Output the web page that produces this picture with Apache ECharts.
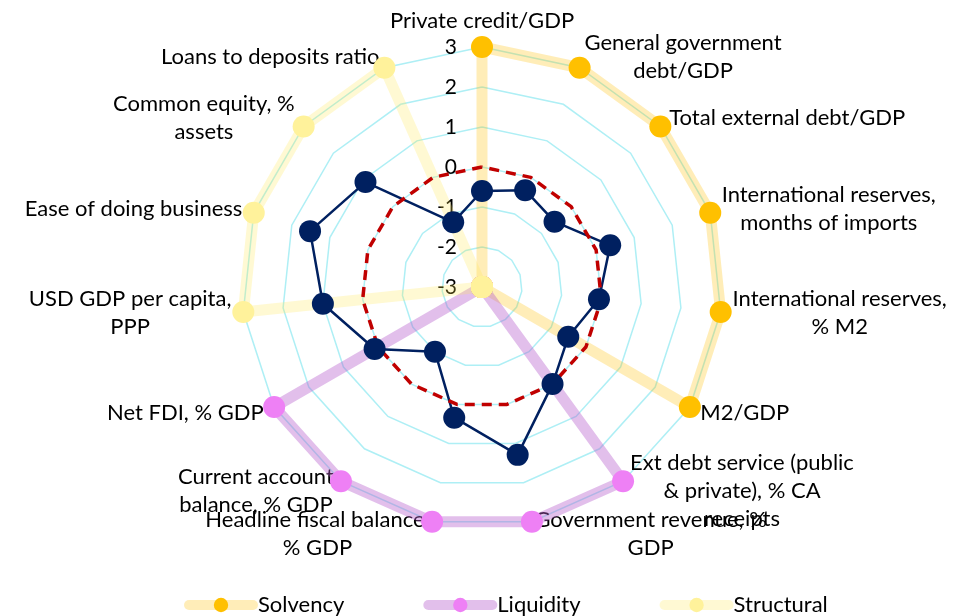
<!DOCTYPE html>
<html>
<head>
<meta charset="utf-8">
<script src="https://cdn.jsdelivr.net/npm/echarts@6/dist/echarts.min.js"></script>
<style>
  body { margin: 0; background: #fff; }
  #radar-chart { width: 971px; height: 616px; }
</style>
</head>
<body>
<div id="radar-chart"></div>
<script>
// indicators, clockwise from the top
const categories = [
  'Private credit/GDP',
  'General government\ndebt/GDP',
  'Total external debt/GDP',
  'International reserves,\nmonths of imports',
  'International reserves,\n% M2',
  'M2/GDP',
  'Ext debt service (public\n& private), % CA\nreceipts',
  'Government revenue, %\nGDP',
  'Headline fiscal balance,\n% GDP',
  'Current account\nbalance, % GDP',
  'Net FDI, % GDP',
  'USD GDP per capita,\nPPP',
  'Ease of doing business',
  'Common equity, %\nassets',
  'Loans to deposits ratio'
];
const axisMin = -3;
const axisMax = 3;

const solvency   = [3, 3, 3, 3, 3, 3, -3, -3, -3, -3, -3, -3, -3, -3, -3];
const liquidity  = [-3, -3, -3, -3, -3, -3, 3, 3, 3, 3, 3, -3, -3, -3, -3];
const structural = [-3, -3, -3, -3, -3, -3, -3, -3, -3, -3, -3, 3, 3, 3, 3];
const country    = [-0.6, -0.35, -0.56, 0.37, -0.06, -0.51, 0.0, 1.29, 0.34, -1.0, 0.1, 1.0, 1.52, 0.92, -1.23];
const zeroLine   = [0, 0, 0, 0, 0, 0, 0, 0, 0, 0, 0, 0, 0, 0, 0];

const legendNames = ['Solvency', 'Liquidity', 'Structural'];

const FONT = 'Lato';
const FONT_SIZE = 22;

// echarts lays radar axes out counter-clockwise, so flip everything after the first one
function toRadarOrder(arr) {
  return [arr[0]].concat(arr.slice(1).reverse());
}

let indicators = toRadarOrder(categories).map(function (name, i) {
  let ind = { name: name, min: axisMin, max: axisMax };
  if (i === 0) {
    ind.axisLabel = {
      show: true,
      margin: 25,
      fontSize: 21,
      fontFamily: FONT,
      color: '#000'
    };
  }
  return ind;
});

const bandStyles = [
  { marker: '#FFC000', line: 'rgba(255,192,0,0.28)' },
  { marker: '#EE80F5', line: 'rgba(182,96,205,0.4)' },
  { marker: '#FFF29B', line: 'rgba(255,230,80,0.25)' }
];
const bandData = [solvency, liquidity, structural];

let series = [];

// empty line series, only used so the legend gets a line + dot icon
legendNames.forEach(function (name, i) {
  series.push({
    type: 'line',
    name: name,
    data: [],
    symbol: 'circle',
    itemStyle: { color: bandStyles[i].marker },
    lineStyle: { color: bandStyles[i].line, width: 11 }
  });
});

legendNames.forEach(function (name, i) {
  series.push({
    type: 'radar',
    name: name,
    symbol: 'circle',
    symbolSize: 22,
    itemStyle: { color: bandStyles[i].marker },
    lineStyle: { color: bandStyles[i].line, width: 11 },
    data: [{ name: name, value: toRadarOrder(bandData[i]) }]
  });
});

series.push({
  type: 'radar',
  name: 'Country',
  symbol: 'circle',
  symbolSize: 22,
  itemStyle: { color: '#002060' },
  lineStyle: { color: '#002060', width: 2.5 },
  data: [{ name: 'Country', value: toRadarOrder(country) }]
});

series.push({
  type: 'radar',
  name: 'Zero',
  symbol: 'none',
  lineStyle: { color: '#C00000', width: 3.5, type: [10, 7] },
  data: [{ name: 'Zero', value: toRadarOrder(zeroLine) }]
});

let option = {
  animation: false,
  backgroundColor: '#fff',
  textStyle: { fontFamily: FONT },
  grid: { show: false, left: 0, top: 0, width: 10, height: 10 },
  xAxis: { show: false, type: 'category', data: [] },
  yAxis: { show: false, type: 'value' },
  legend: {
    data: legendNames,
    left: 179,
    top: 589,
    itemWidth: 64,
    itemHeight: 18,
    itemGap: 79,
    textStyle: { fontSize: FONT_SIZE, fontFamily: FONT, color: '#000' },
    lineStyle: { width: 10, cap: 'round' }
  },
  radar: {
    center: [482, 287],
    radius: 240,
    startAngle: 90,
    splitNumber: 6,
    shape: 'polygon',
    nameGap: 12,
    axisName: {
      color: '#000',
      fontSize: FONT_SIZE,
      fontFamily: FONT,
      lineHeight: 28,
      formatter: function (name) {
        return name.split('\n').map(function (s) { return '{c|' + s + '}'; }).join('\n');
      },
      rich: {
        c: { align: 'center', color: '#000', fontSize: FONT_SIZE, fontFamily: FONT, lineHeight: 28 }
      }
    },
    axisLine: { show: false },
    axisTick: { show: false },
    axisLabel: { show: false },
    splitArea: { show: false },
    splitLine: { lineStyle: { color: '#AEEFF5', width: 1.5 } },
    indicator: indicators
  },
  series: series
};

let radarChart = echarts.init(document.getElementById('radar-chart'));
radarChart.setOption(option);
</script>
</body>
</html>
